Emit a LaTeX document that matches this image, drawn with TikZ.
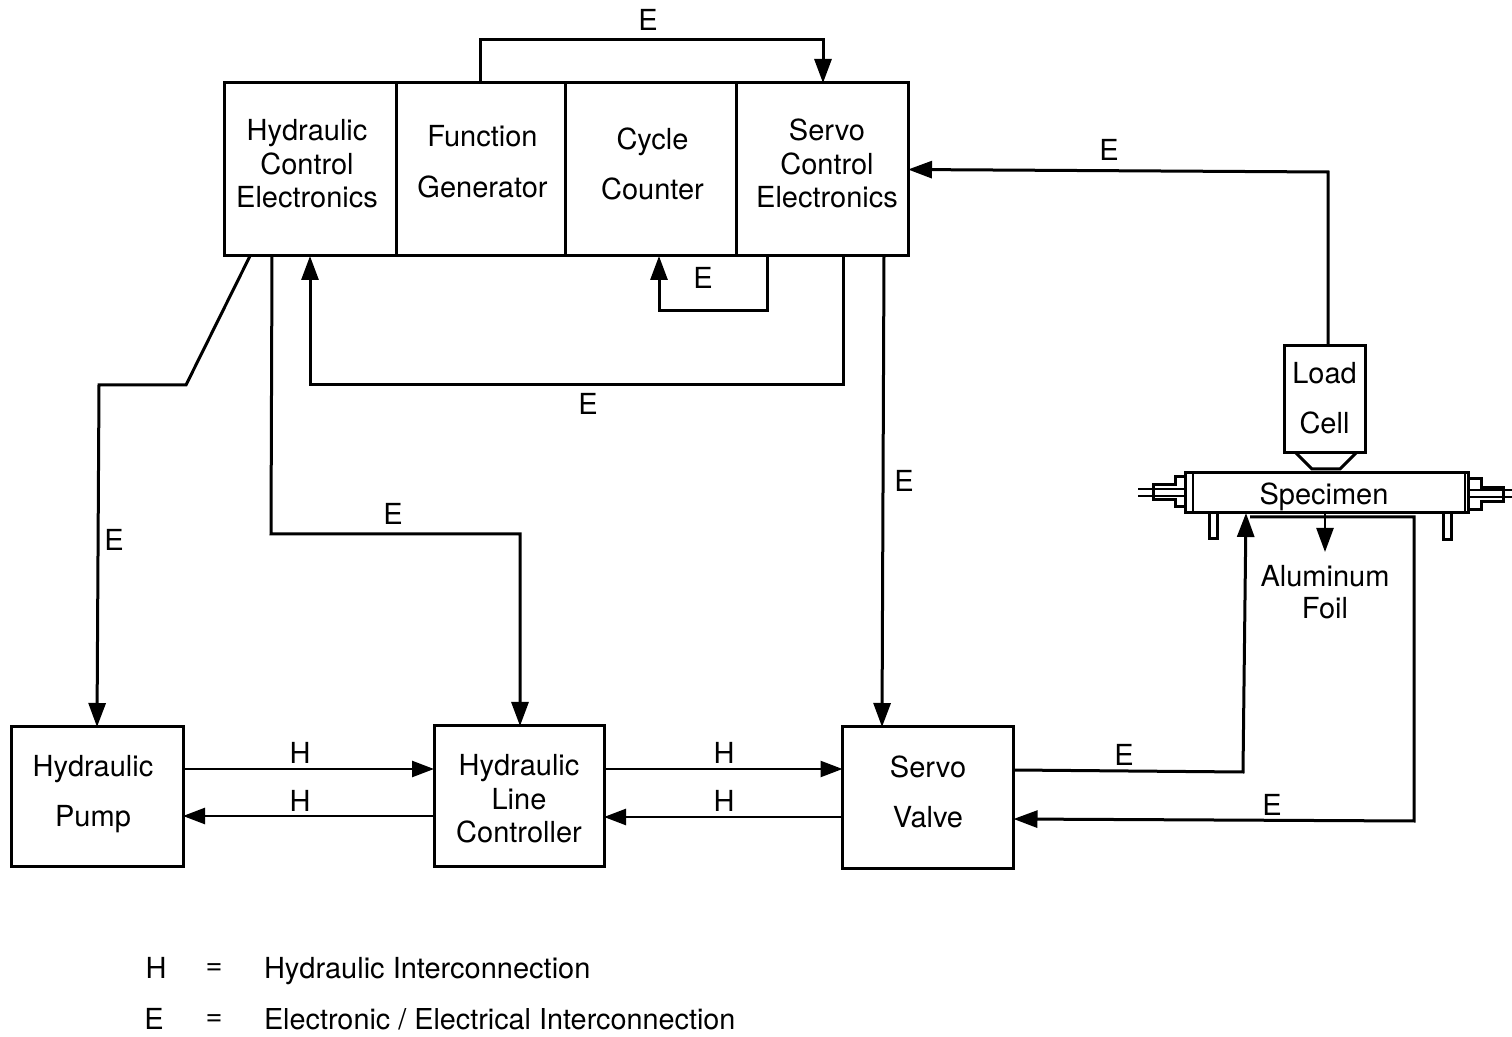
\documentclass[tikz,border=0pt]{standalone}
\usepackage{fontspec}
\setmainfont{TeX Gyre Heros}
\usetikzlibrary{arrows.meta}
\newcommand{\placedtext}[3]{\hspace*{#1}\vbox{\hbox{\begin{tabular}{@{}c@{}}#3\end{tabular}}\kern#2}}
\tikzset{
  blk/.style={draw=black,line width=1.5pt,inner sep=0pt,outer sep=0pt,align=center,font=\fontsize{14.5}{16.75}\selectfont},
  wide/.style={blk,font=\fontsize{14.5}{25.2}\selectfont},
  txt/.style={inner sep=0pt,outer sep=0pt,align=center,font=\fontsize{14.5}{16.75}\selectfont},
  wire/.style={line width=1.5pt,line join=miter},
  awire/.style={wire,-{Triangle[length=12pt,width=8.5pt]}},
  hwire/.style={line width=1.25pt,-{Triangle[length=11pt,width=8pt]}},
  thin part/.style={line width=1pt}
}
\begin{document}
\begin{tikzpicture}[x=0.5pt,y=-0.5pt]
\useasboundingbox (0,0) rectangle (1512,1037);
% top row
\node[blk,minimum width=86pt,minimum height=86.5pt] (hce) at (310,169.5) {\placedtext{-3pt}{2pt}{Hydraulic\\Control\\Electronics}};
\node[wide,minimum width=84.5pt,minimum height=86.5pt] (fg) at (480.5,169.5) {\placedtext{2pt}{7.5pt}{Function\\Generator}};
\node[wide,minimum width=85.5pt,minimum height=86.5pt] (cc) at (650.5,169.5) {\placedtext{2pt}{5pt}{Cycle\\Counter}};
\node[blk,minimum width=86pt,minimum height=86.5pt] (sce) at (822,169.5) {\placedtext{5pt}{2pt}{Servo\\Control\\Electronics}};
% bottom row
\node[wide,minimum width=86pt,minimum height=69.5pt] (pump) at (97,796.5) {\placedtext{-4pt}{5pt}{Hydraulic\\Pump}};
\node[blk,minimum width=85pt,minimum height=70pt] (hlc) at (519,796) {\placedtext{0pt}{-6.5pt}{Hydraulic\\Line\\Controller}};
\node[wide,minimum width=85.5pt,minimum height=70.5pt] (sv) at (928,797.5) {\placedtext{0pt}{5pt}{Servo\\Valve}};
% specimen
\node[wide,minimum width=40.5pt,minimum height=53.5pt] (load) at (1324.5,399.5) {\placedtext{0pt}{1pt}{Load\\Cell}};
\node[blk,minimum width=141.5pt,minimum height=20pt] (spec) at (1327,493) {\placedtext{-3pt}{-5pt}{Specimen}};
\node[txt,font=\fontsize{14.5}{16}\selectfont] (foil) at (1325,592) {Aluminum\\Foil};
% specimen details
\draw[wire] (1296,453) -- (1312,469) -- (1340,469) -- (1356,453);
\draw[thin part] (1193,473) -- (1193,512) (1465,473) -- (1465,512);
\draw[wire] (1185,477) -- (1175,477) -- (1175,485) -- (1153,485) -- (1153,500) -- (1175,500) -- (1175,507) -- (1185,507);
\draw[thin part] (1138,489) -- (1185,489) (1138,496) -- (1185,496);
\draw[wire] (1469,479) -- (1481,479) -- (1481,488) -- (1503,488) -- (1503,502) -- (1481,502) -- (1481,510) -- (1469,510);
\draw[thin part] (1469,490) -- (1512,490) (1469,497) -- (1512,497);
\draw[wire] (1209.5,513) -- (1209.5,539) -- (1217.5,539) -- (1217.5,513);
\draw[wire] (1443.5,513) -- (1443.5,540) -- (1451.5,540) -- (1451.5,513);
% connectors
\draw[awire] (fg.north -| 480,0) -- (480,40) -- (823,40) -- (sce.north -| 823,0);
\draw[awire] (load.north -| 1328,0) -- (1328,172) -- (sce.east);
\draw[awire] (sce.south -| 767,0) -- (767,311) -- (659,311) -- (cc.south -| 659,0);
\draw[awire] (sce.south -| 843,0) -- (843,385) -- (310,385) -- (hce.south -| 310,0);
\draw[awire] (sce.south -| 884,0) -- (sv.north -| 882,0);
\draw[awire] (hce.south -| 250,0) -- (186,385) -- (99,385) -- (pump.north -| 97,0);
\draw[awire] (hce.south -| 272,0) -- (271,534) -- (520,534) -- (hlc.north -| 520,0);
\draw[hwire] (pump.east |- 0,769) -- (hlc.west |- 0,769);
\draw[hwire] (hlc.west |- 0,816) -- (pump.east |- 0,816);
\draw[hwire] (hlc.east |- 0,769) -- (sv.west |- 0,769);
\draw[hwire] (sv.west |- 0,817) -- (hlc.east |- 0,817);
\draw[awire] (sv.east |- 0,770) -- (1243,772) -- (spec.south -| 1246,0);
\draw[awire] (1250,517) -- (1414,517) -- (1414,821) -- (sv.east |- 0,819);
\draw[awire,line width=1.25pt] (spec.south -| 1325,0) -- (1325,552);
% edge labels
\node[txt] (e1) at (648,20) {E};
\node[txt] (e2) at (1109,150) {E};
\node[txt] (e3) at (703,278) {E};
\node[txt] (e4) at (588,404) {E};
\node[txt] (e5) at (904,481) {E};
\node[txt] (e6) at (114,540) {E};
\node[txt] (e7) at (393,514) {E};
\node[txt] (e8) at (1124,755) {E};
\node[txt] (e9) at (1272,805) {E};
\node[txt] (h1) at (300,753) {H};
\node[txt] (h2) at (300,801) {H};
\node[txt] (h3) at (724,753) {H};
\node[txt] (h4) at (724,801) {H};
% legend
\node[txt] (lh) at (156,968) {H};
\node[txt] (leq1) at (214,969) {=};
\node[txt,anchor=base west] (lht) at (264,978) {Hydraulic Interconnection};
\node[txt] (le) at (154,1019) {E};
\node[txt] (leq2) at (214,1020) {=};
\node[txt,anchor=base west,font=\fontsize{14.4}{16.75}\selectfont] (let) at (264,1029) {Electronic / Electrical Interconnection};
\end{tikzpicture}
\end{document}
